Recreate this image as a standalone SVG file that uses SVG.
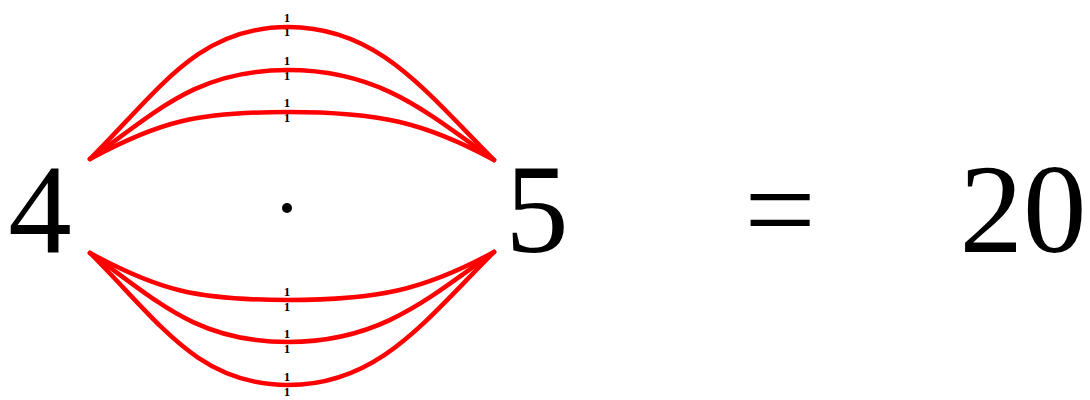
<svg xmlns="http://www.w3.org/2000/svg" width="1090" height="400" viewBox="0 0 1090 400">
  <style>
    .big { font-family: "Liberation Serif", "Times New Roman", serif; font-size: 127px; fill: #000; text-anchor: middle; }
    .lbl { font-family: "Liberation Serif", "Times New Roman", serif; font-size: 13px; font-weight: bold; fill: #000; text-anchor: middle; }
    .edge { fill: none; stroke: #ff0000; stroke-width: 4.5; stroke-linecap: round; }
  </style>
  <rect width="1090" height="400" fill="#fff"/>
  <g id="labels">
    <text class="lbl" x="287" y="22">1</text><text class="lbl" x="287" y="36">1</text>
    <text class="lbl" x="287" y="65">1</text><text class="lbl" x="287" y="80">1</text>
    <text class="lbl" x="287" y="107">1</text><text class="lbl" x="287" y="122">1</text>
    <text class="lbl" x="287" y="296">1</text><text class="lbl" x="287" y="311">1</text>
    <text class="lbl" x="287" y="338">1</text><text class="lbl" x="287" y="353">1</text>
    <text class="lbl" x="287" y="381">1</text><text class="lbl" x="287" y="396">1</text>
  </g>
  <g id="connectors">
    <path class="edge" d="M90,159 C160,89 198,27 288,27 C378,27 424,90 494,160"/>
    <path class="edge" d="M90,159 C160,109 198,70 288,70 C378,70 424,110 494,160"/>
    <path class="edge" d="M90,159 C160,121 198,112 288,112 C378,112 424,122 494,160"/>
    <path class="edge" d="M90,253 C160,291 198,300 288,300 C378,300 424,290 494,252"/>
    <path class="edge" d="M90,253 C160,303 198,342 288,342 C378,342 424,302 494,252"/>
    <path class="edge" d="M90,253 C160,323 198,385 288,385 C378,385 424,322 494,252"/>
  </g>
  <g id="node-4"><text class="big" x="40" y="252">4</text></g>
  <g id="node-center"><circle cx="287" cy="208" r="5" fill="#000"/></g>
  <g id="node-5"><text class="big" x="537" y="252">5</text></g>
  <g id="equals"><text class="big" x="780" y="252">=</text></g>
  <g id="result"><text class="big" x="1023" y="252">20</text></g>
</svg>
